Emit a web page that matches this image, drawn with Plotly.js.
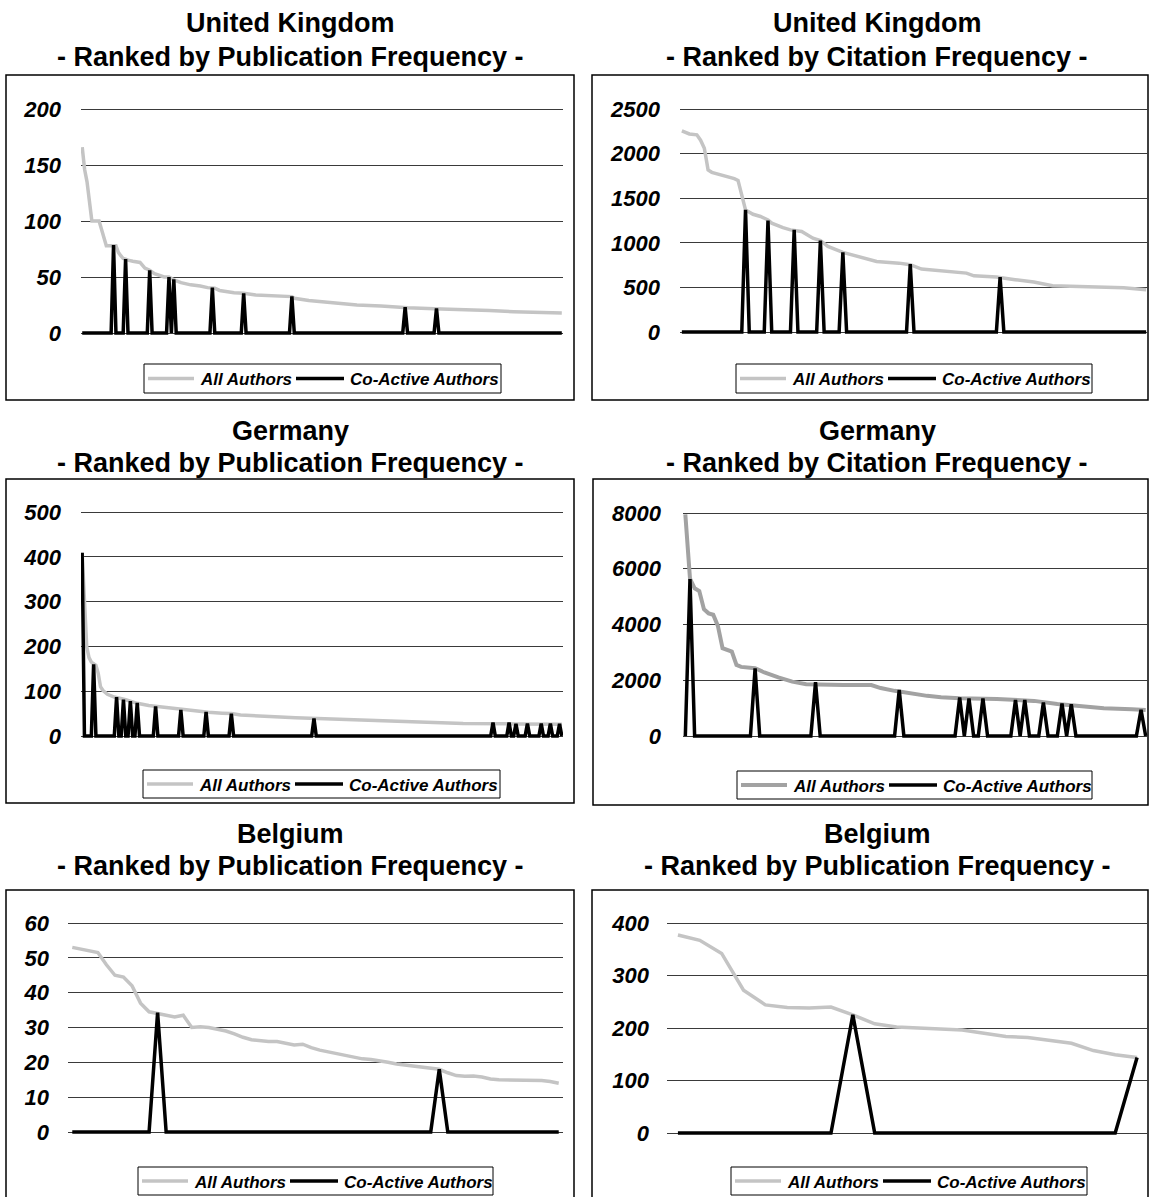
<!DOCTYPE html>
<html>
<head>
<meta charset="utf-8">
<script src="https://cdn.plot.ly/plotly-3.0.1.min.js"></script>
<style>
  html, body { margin: 0; padding: 0; background: #ffffff; }
  #chart { width: 1150px; height: 1197px; }
</style>
</head>
<body>
<div id="chart"></div>
<script>
// ---------------- DATA ----------------
const seriesNames = ['All Authors', 'Co-Active Authors'];
const countryTitles = ['United Kingdom', 'United Kingdom', 'Germany', 'Germany', 'Belgium', 'Belgium'];
const subTitles = [
  '- Ranked by Publication Frequency -',
  '- Ranked by Citation Frequency -',
  '- Ranked by Publication Frequency -',
  '- Ranked by Citation Frequency -',
  '- Ranked by Publication Frequency -',
  '- Ranked by Publication Frequency -'
];

// United Kingdom - publications
const ukPubN = 200;
const ukPubRanks = [1,2,3,4,5,8,9,10,11,15,16,17,18,19,20,22,25,27,29,31,35,37,39,42,46,50,53,56,58,64,68,73,81,88,89,95,105,115,125,136,150,159,170,180,190,200];
const ukPubAll   = [166,146,135,115,100,100,92,83,78,78,72,69,66.5,66,65,64,63,58,56,53,50,50,47.5,45,43,42,40.5,40,38,36,35.5,34,33,32.5,31,29,27,25,24,22.5,21.5,20.5,20,19,18.5,17.8];
const ukPubCoRanks = [14,19,29,37,39,55,68,88,135,148];
const ukPubCoVals  = [78.5,66,56,50,48,40.5,35.5,32.8,23,22];
const ukPubTicks = [0,50,100,150,200];

// United Kingdom - citations
const ukCitN = 125;
const ukCitRanks = [1,3,5,6,7,8,9,12,15,16,17,18,20,22,24,25,28,30,33,36,38,40,44,48,53,59,62,65,70,77,79,85,90,95,100,110,119,125];
const ukCitAll   = [2254,2220,2210,2150,2060,1817,1790,1760,1720,1700,1519,1369,1320,1295,1257,1220,1170,1145,1127,1052,1026,960,892,847,791,772,754,705,690,660,630,616,586,560,519,511,495,474];
const ukCitCoRanks = [18,24,31,38,44,62,86];
const ukCitCoVals  = [1369,1250,1145,1026,892,761,616];
const ukCitTicks = [0,500,1000,1500,2000,2500];

// Germany - publications
const dePubN = 210;
const dePubRanks = [1,2,3,4,5,7,8,9,10,12,15,20,25,30,35,42,50,56,62,66,70,78,85,94,110,126,142,160,167,190,210];
const dePubAll   = [409,300,199,175,165,158,140,110,102,93,87,81,73,68,65,61,55,53,51,50,47,44,43,41,38,35,32,29,28,27,26];
const dePubCoRanks = [1,6,16,19,22,25,33,44,55,66,102,180,187,190,195,201,205,209];
const dePubCoVals  = [409,160,87,81,78,74,66,58,54,50,39,30,30,27,28,28,28,27];
const dePubTicks = [0,100,200,300,400,500];

// Germany - citations
const deCitN = 100;
const deCitRanks = [1,2,3,4,5,6,7,8,9,10,11,12,13,16,18,21,24,27,30,35,41,43,46,49,53,56,60,68,76,81,85,91,97,100];
const deCitAll   = [7950,5650,5300,5200,4550,4400,4350,3950,3150,3100,3030,2550,2480,2430,2280,2100,1950,1860,1840,1830,1830,1720,1620,1530,1440,1390,1350,1330,1260,1150,1080,1000,960,930];
const deCitCoRanks = [2,16,29,47,60,62,65,72,74,78,82,84,99];
const deCitCoVals  = [5630,2430,1930,1650,1380,1350,1350,1290,1290,1200,1170,1140,940];
const deCitTicks = [0,2000,4000,6000,8000];

// Belgium - publications (left)
const bePubN = 58;
const bePubRanks = [1,2,3,4,5,6,7,8,9,10,11,12,13,14,15,16,17,18,19,20,21,22,23,24,25,26,27,28,29,30,31,32,33,34,35,36,37,38,39,40,41,42,43,44,45,46,47,48,49,50,51,52,53,54,55,56,57,58];
const bePubAll   = [53,52.5,52,51.5,48,45,44.5,42,37,34.5,34,33.5,33,33.5,30,30.2,30,29.5,29,28.2,27.2,26.5,26.2,26,26,25.5,25,25.2,24.2,23.5,23,22.5,22,21.5,21,20.8,20.5,20,19.5,19.2,19,18.8,18.5,18,17,16.2,16,16.1,15.8,15.2,15,15,15,15,14.9,14.8,14.5,14];
const bePubCoRanks = [11,44];
const bePubCoVals  = [34.3,18];
const bePubTicks = [0,10,20,30,40,50,60];

// Belgium - publications (right)
const be2N = 22;
const be2Ranks = [1,2,3,4,5,6,7,8,9,10,11,12,13,14,15,16,17,18,19,20,21,22];
const be2All   = [377,367,342,272,244,239,238,240,225,208,202,200,198,196,190,184,182,177,171,157,149,144];
const be2CoRanks = [9,22];
const be2CoVals  = [225,144];
const be2Ticks = [0,100,200,300,400];

// ---------------- LAYOUT ----------------
const W = 1150, H = 1197;
const FONT = 'Liberation Sans, Arial, Helvetica, sans-serif';
const CO_COLOR = '#000000', CO_W = 3.5;

const panels = [
  {ranks: ukPubRanks, all: ukPubAll, coR: ukPubCoRanks, coV: ukPubCoVals, n: ukPubN, ticks: ukPubTicks,
   xPix: [81, 563], y0: 333, yT: 109, box: [6, 75, 574, 400], tx: 290, ty: [22.5, 57.5], leg: [144, 364, 501, 393], so: 19, allColor: '#c4c4c4', allW: 3.5},
  {ranks: ukCitRanks, all: ukCitAll, coR: ukCitCoRanks, coV: ukCitCoVals, n: ukCitN, ticks: ukCitTicks,
   xPix: [680, 1148], y0: 332, yT: 109, box: [592, 75, 1148, 400], tx: 877, ty: [22.5, 57.5], leg: [736, 364, 1092, 393], so: 19, allColor: '#c4c4c4', allW: 3.5},
  {ranks: dePubRanks, all: dePubAll, coR: dePubCoRanks, coV: dePubCoVals, n: dePubN, ticks: dePubTicks,
   xPix: [81, 563], y0: 736, yT: 512, box: [6, 479, 574, 803], tx: 290, ty: [430.5, 462.5], leg: [143, 770, 500, 798], so: 19, allColor: '#c4c4c4', allW: 3.5},
  {ranks: deCitRanks, all: deCitAll, coR: deCitCoRanks, coV: deCitCoVals, n: deCitN, ticks: deCitTicks,
   xPix: [683, 1148], y0: 736, yT: 513, box: [593, 479, 1148, 805], tx: 877, ty: [430.5, 462.5], leg: [737, 771, 1092, 799], so: 21, allColor: '#a2a2a2', allW: 4},
  {ranks: bePubRanks, all: bePubAll, coR: bePubCoRanks, coV: bePubCoVals, n: bePubN, ticks: bePubTicks,
   xPix: [68, 563], y0: 1132, yT: 923, box: [6, 890, 574, 1205], tx: 290, ty: [833.5, 865.5], leg: [138, 1167, 493, 1195], so: 18, allColor: '#c4c4c4', allW: 3.5},
  {ranks: be2Ranks, all: be2All, coR: be2CoRanks, coV: be2CoVals, n: be2N, ticks: be2Ticks,
   xPix: [667, 1148], y0: 1133, yT: 923, box: [592, 890, 1148, 1205], tx: 877, ty: [833.5, 865.5], leg: [731, 1167, 1087, 1195], so: 17, allColor: '#c4c4c4', allW: 3.5}
];

const traces = [];
const layout = {
  width: W, height: H,
  margin: {l: 0, r: 0, t: 0, b: 0},
  paper_bgcolor: '#ffffff',
  plot_bgcolor: 'rgba(0,0,0,0)',
  showlegend: false,
  shapes: [],
  annotations: [],
  font: {family: FONT, color: '#000'}
};
const fx = v => v / W;
const fy = v => 1 - v / H;

panels.forEach((p, i) => {
  const s = i === 0 ? '' : String(i + 1);
  const xa = 'x' + s, ya = 'y' + s;

  // co-active full series built from the spike table
  const coX = [], coY = [];
  for (let k = 1; k <= p.n; k++) {
    coX.push(k);
    const j = p.coR.indexOf(k);
    coY.push(j >= 0 ? p.coV[j] : 0);
  }

  traces.push({
    type: 'scatter', mode: 'lines', x: p.ranks, y: p.all,
    name: seriesNames[0], xaxis: xa, yaxis: ya, showlegend: false,
    line: {color: p.allColor, width: p.allW}, hoverinfo: 'skip'
  });
  traces.push({
    type: 'scatter', mode: 'lines', x: coX, y: coY,
    name: seriesNames[1], xaxis: xa, yaxis: ya, showlegend: false,
    line: {color: CO_COLOR, width: CO_W}, hoverinfo: 'skip'
  });

  const yTop = p.ticks[p.ticks.length - 1];
  const k = (p.y0 - p.yT) / yTop;
  const pad = 5;
  layout['xaxis' + s] = {
    domain: [fx(p.xPix[0]), fx(p.xPix[1])],
    range: [0.5, p.n + 0.5],
    showgrid: false, zeroline: false, showline: false, showticklabels: false, ticks: '',
    anchor: ya, fixedrange: true
  };
  layout['yaxis' + s] = {
    domain: [1 - (p.y0 + pad) / H, 1 - (p.yT - pad) / H],
    range: [-pad / k, yTop + pad / k],
    tickmode: 'array', tickvals: p.ticks, ticktext: p.ticks.map(String),
    showgrid: true, gridcolor: '#3a3a3a', gridwidth: 1,
    zeroline: false, showline: false, ticks: '',
    ticklabelstandoff: p.so,
    tickfont: {family: FONT, size: 22, color: '#000', weight: 'bold', style: 'italic'},
    anchor: xa, fixedrange: true
  };

  // panel frame
  layout.shapes.push({
    type: 'rect', xref: 'paper', yref: 'paper',
    x0: fx(p.box[0]), x1: fx(p.box[2]), y0: fy(p.box[3]), y1: fy(p.box[1]),
    line: {color: '#000000', width: 1.5}, fillcolor: 'rgba(0,0,0,0)', layer: 'below'
  });

  // legend (box, line samples, labels)
  const [l, t, r, b] = p.leg;
  const cy = (t + b) / 2;
  layout.shapes.push({
    type: 'rect', xref: 'paper', yref: 'paper',
    x0: fx(l), x1: fx(r), y0: fy(b), y1: fy(t),
    line: {color: '#000000', width: 1}, fillcolor: '#ffffff', layer: 'above'
  });
  layout.shapes.push({
    type: 'line', xref: 'paper', yref: 'paper',
    x0: fx(l + 4), x1: fx(l + 50), y0: fy(cy), y1: fy(cy),
    line: {color: p.allColor, width: p.allW}, layer: 'above'
  });
  layout.shapes.push({
    type: 'line', xref: 'paper', yref: 'paper',
    x0: fx(l + 152), x1: fx(l + 200), y0: fy(cy), y1: fy(cy),
    line: {color: CO_COLOR, width: CO_W}, layer: 'above'
  });
  const legFont = {family: FONT, size: 17, color: '#000', weight: 'bold', style: 'italic'};
  layout.annotations.push({
    xref: 'paper', yref: 'paper', x: fx(l + 54), y: fy(cy + 1),
    xanchor: 'left', yanchor: 'middle', showarrow: false,
    text: seriesNames[0], font: legFont
  });
  layout.annotations.push({
    xref: 'paper', yref: 'paper', x: fx(l + 204), y: fy(cy + 1),
    xanchor: 'left', yanchor: 'middle', showarrow: false,
    text: seriesNames[1], font: legFont
  });

  // titles
  layout.annotations.push({
    xref: 'paper', yref: 'paper', x: fx(p.tx), y: fy(p.ty[0]),
    xanchor: 'center', yanchor: 'middle', showarrow: false,
    text: countryTitles[i], font: {family: FONT, size: 27, color: '#000', weight: 'bold'}
  });
  layout.annotations.push({
    xref: 'paper', yref: 'paper', x: fx(p.tx), y: fy(p.ty[1]),
    xanchor: 'center', yanchor: 'middle', showarrow: false,
    text: subTitles[i], font: {family: FONT, size: 27, color: '#000', weight: 'bold'}
  });
});

Plotly.newPlot('chart', traces, layout, {displayModeBar: false, staticPlot: true});
</script>
</body>
</html>
